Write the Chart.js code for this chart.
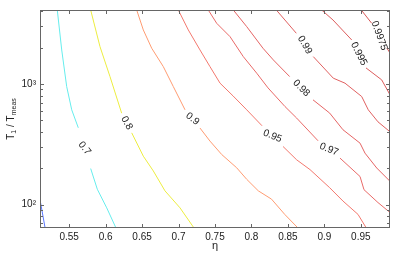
<!DOCTYPE html>
<html>
<head>
<meta charset="utf-8">
<script src="https://cdn.jsdelivr.net/npm/chart.js@4/dist/chart.umd.min.js"></script>
<style>
  html, body { margin: 0; padding: 0; background: #fff; }
  canvas { display: block; }
</style>
</head>
<body>
<canvas id="chart" width="393" height="258"></canvas>
<script>
// contour levels, and the text written on each one
const levels = [0.6, 0.7, 0.8, 0.9, 0.95, 0.97, 0.98, 0.99, 0.995, 0.9975];
const levelNames = ['0.6', '0.7', '0.8', '0.9', '0.95', '0.97', '0.98', '0.99', '0.995', '0.9975'];

// eta along each contour; null leaves the gap where the label sits
const etaLines = [
  [0.510, 0.517],
  [0.5337, 0.5398, 0.5466, 0.5535, 0.5625, null, 0.5795, 0.5886, 0.6015, 0.6142],
  [0.5795, 0.5923, 0.6060, 0.6220, null, 0.6358, 0.6517, 0.6654, 0.6814, 0.7020, 0.7212],
  [0.6426, 0.6517, 0.6632, 0.6791, 0.6928, 0.7089, null, 0.7294, 0.7431, 0.7592, 0.7797, 0.7935, 0.8094, 0.8275, 0.8456, 0.8638],
  [0.6997, 0.7134, 0.7294, 0.7431, 0.7569, 0.7747, 0.7935, 0.8145, null, 0.8433, 0.8620, 0.8803, 0.9073, 0.9255, 0.9461, 0.9575],
  [0.7408, 0.7523, 0.7706, 0.7888, 0.8072, 0.8227, 0.8460, 0.8620, 0.8913, null, 0.9214, 0.9489, 0.9543, 0.9735, 0.990],
  [0.7751, 0.7935, 0.8158, 0.8300, 0.8524, null, 0.8844, 0.9073, 0.9255, 0.9489, 0.9557, 0.9718, 0.990],
  [0.8341, 0.8615, null, 0.8848, 0.9122, 0.9283, 0.9512, 0.9602, 0.9735, 0.990],
  [0.8963, 0.9118, 0.9375, null, 0.9571, 0.9786, 0.990],
  [0.9506, 0.9649, null, 0.9855, 0.990]
];

// T1 / Tmeas along each contour (same points as above)
const tLines = [
  [110, 64],
  [4096, 1910, 950, 610, 433, null, 199, 134, 94, 64],
  [4096, 2034, 1149, 572, null, 393, 252, 190, 130, 94, 64],
  [4096, 2799, 1975, 1391, 951, 610, null, 431, 336, 260, 202, 162, 130, 111, 83, 64],
  [4096, 2799, 1912, 1391, 1014, 796, 610, 450, null, 303, 235, 195, 138, 107, 83, 64],
  [4096, 3180, 2464, 1683, 1227, 927, 649, 521, 338, null, 243, 171, 133, 104, 86],
  [4096, 2981, 1975, 1580, 1150, null, 738, 573, 417, 323, 267, 201, 156],
  [4096, 2628, null, 1683, 1116, 1014, 786, 610, 485, 401],
  [4096, 3386, 2313, null, 1357, 1080, 812],
  [4096, 3180, null, 1987, 1806]
];

const xTicks = [0.55, 0.6, 0.65, 0.7, 0.75, 0.8, 0.85, 0.9, 0.95];
const xTickLabels = ['0.55', '0.6', '0.65', '0.7', '0.75', '0.8', '0.85', '0.9', '0.95'];
const yTicks = [70, 80, 90, 100, 200, 300, 400, 500, 600, 700, 800, 900, 1000, 2000, 3000, 4000];
const yMajor = [100, 1000];

const lineColors = ['#5a78ff', '#66eded', '#eded40', '#ff9c72', '#f3786e', '#e96a68', '#e56464', '#e06060', '#dc5c5c', '#d85858'];
const labelAngles = [0, 52, 62, 38, 22, 22, 45, 60, 63, 70];

const fontFamily = '"Liberation Sans", Arial, Helvetica, sans-serif';
const textColor = '#222222';
const axisColor = '#666666';

// contour labels rotated into the gaps left in the lines
const contourLabels = {
  id: 'contourLabels',
  afterDatasetsDraw(chart) {
    const { ctx, scales: { x, y } } = chart;
    ctx.save();
    ctx.font = '10px ' + fontFamily;
    ctx.fillStyle = textColor;
    ctx.textAlign = 'center';
    ctx.textBaseline = 'middle';
    etaLines.forEach((etas, i) => {
      const g = etas.indexOf(null);
      if (g < 0) return;
      const ax = x.getPixelForValue(etas[g - 1]);
      const ay = y.getPixelForValue(tLines[i][g - 1]);
      const bx = x.getPixelForValue(etas[g + 1]);
      const by = y.getPixelForValue(tLines[i][g + 1]);
      ctx.save();
      ctx.translate((ax + bx) / 2, (ay + by) / 2);
      ctx.rotate(labelAngles[i] * Math.PI / 180);
      ctx.fillText(levelNames[i], 0, 0);
      ctx.restore();
    });
    ctx.restore();
  }
};

// matlab style box with inward ticks, plus the y title with subscripts
const axesBox = {
  id: 'axesBox',
  afterDraw(chart) {
    const { ctx, chartArea: a, scales: { x, y } } = chart;
    ctx.save();
    ctx.strokeStyle = axisColor;
    ctx.lineWidth = 1;
    ctx.strokeRect(a.left + 0.5, a.top + 0.5, a.right - a.left - 1, a.bottom - a.top - 1);
    ctx.beginPath();
    xTicks.forEach(v => {
      const px = Math.round(x.getPixelForValue(v)) + 0.5;
      ctx.moveTo(px, a.bottom); ctx.lineTo(px, a.bottom - 4);
      ctx.moveTo(px, a.top); ctx.lineTo(px, a.top + 4);
    });
    yTicks.forEach(v => {
      const py = Math.round(y.getPixelForValue(v)) + 0.5;
      const len = yMajor.includes(v) ? 4 : 3;
      ctx.moveTo(a.left, py); ctx.lineTo(a.left + len, py);
      ctx.moveTo(a.right, py); ctx.lineTo(a.right - len, py);
    });
    ctx.stroke();

    // y title: T1 / Tmeas
    const parts = [['T', 10, 0], ['1', 7, 3], [' / T', 10, 0], ['meas', 7, 3]];
    let total = 0;
    parts.forEach(p => { ctx.font = p[1] + 'px ' + fontFamily; total += ctx.measureText(p[0]).width; });
    ctx.translate(11, (a.top + a.bottom) / 2);
    ctx.rotate(-Math.PI / 2);
    ctx.fillStyle = textColor;
    ctx.textBaseline = 'middle';
    ctx.textAlign = 'left';
    let cx = -total / 2;
    parts.forEach(p => {
      ctx.font = p[1] + 'px ' + fontFamily;
      ctx.fillText(p[0], cx, p[2]);
      cx += ctx.measureText(p[0]).width;
    });
    ctx.restore();
  }
};

const datasets = levels.map((lv, i) => ({
  label: levelNames[i],
  data: etaLines[i].map((e, j) => ({ x: e, y: tLines[i][j] })),
  showLine: true,
  borderColor: lineColors[i],
  borderWidth: 1,
  pointRadius: 0,
  pointHoverRadius: 0,
  tension: 0,
  spanGaps: false
}));

new Chart(document.getElementById('chart'), {
  type: 'scatter',
  data: { datasets },
  options: {
    responsive: false,
    animation: false,
    devicePixelRatio: 1,
    layout: { padding: { top: 10, right: 3, left: 0, bottom: 0 } },
    plugins: { legend: { display: false }, tooltip: { enabled: false } },
    scales: {
      x: {
        type: 'linear',
        min: 0.51,
        max: 0.99,
        afterFit(scale) { scale.height = 30; },
        afterBuildTicks(scale) { scale.ticks = xTicks.map(v => ({ value: v })); },
        grid: { display: false, drawTicks: false },
        border: { display: false },
        ticks: {
          autoSkip: false,
          maxRotation: 0,
          padding: 3,
          color: textColor,
          font: { family: fontFamily, size: 10 },
          callback: (v, i) => xTickLabels[i]
        },
        title: {
          display: true,
          text: 'η',
          color: textColor,
          font: { family: fontFamily, size: 11 },
          padding: { top: 0, bottom: 5 }
        }
      },
      y: {
        type: 'logarithmic',
        min: 64,
        max: 4096,
        afterFit(scale) { scale.width = 40; },
        afterBuildTicks(scale) { scale.ticks = yTicks.map(v => ({ value: v })); },
        grid: { display: false, drawTicks: false },
        border: { display: false },
        ticks: {
          autoSkip: false,
          padding: 4,
          color: textColor,
          font: { family: fontFamily, size: 10 },
          callback: v => v === 100 ? '10²' : v === 1000 ? '10³' : ''
        }
      }
    }
  },
  plugins: [contourLabels, axesBox]
});
</script>
</body>
</html>
